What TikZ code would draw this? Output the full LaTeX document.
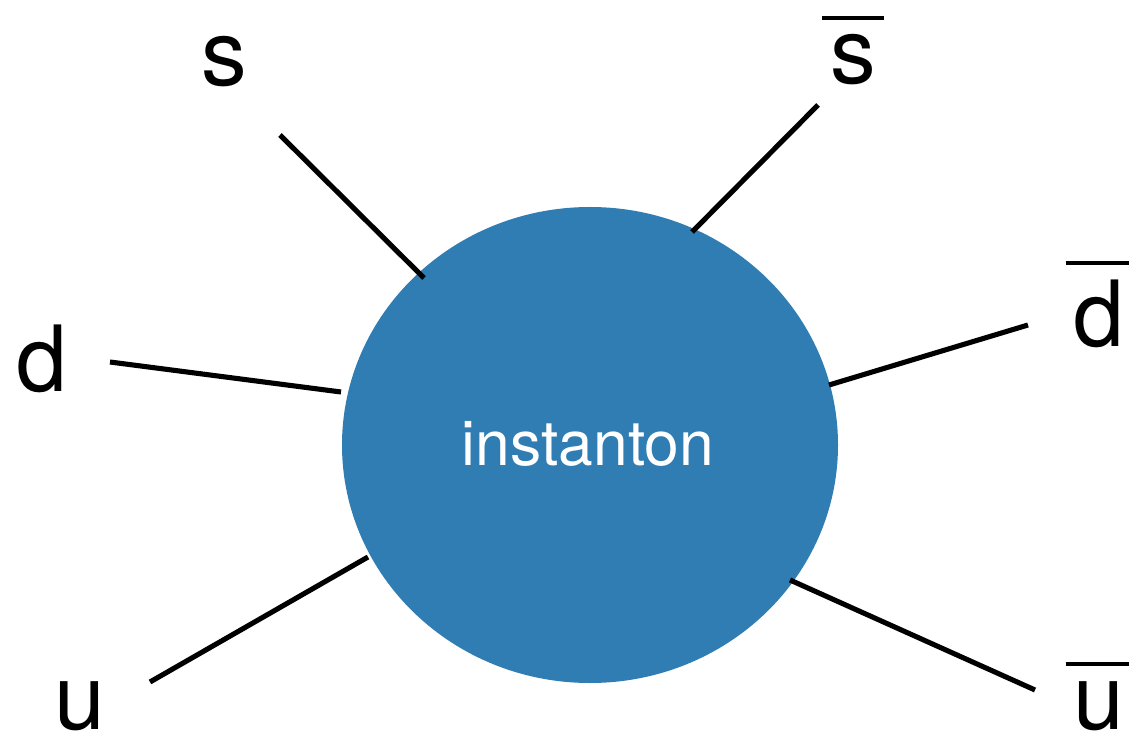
\documentclass[tikz,border=0pt]{standalone}
\usepackage{fontspec}
\setmainfont{TeX Gyre Heros}
\usepackage{xcolor}
\usetikzlibrary{shapes.geometric}
\definecolor{instblue}{RGB}{47,125,178}
\newcommand{\abar}[1]{\vbox{\hrule height 2.4pt \kern 8.5pt \hbox{\kern4.5pt#1\kern4.5pt}}}
\tikzset{
  quark/.style={anchor=base, inner sep=0pt, font=\fontsize{52}{60}\selectfont},
  leg/.style={line width=2.9pt},
  blob/.style={ellipse, fill=instblue, minimum width=496*0.02cm, minimum height=476*0.02cm, inner sep=0pt},
  every picture/.style={line cap=butt, line join=round}
}
\begin{document}
\begin{tikzpicture}[x=0.02cm, y=-0.02cm]
  \useasboundingbox (0,0) rectangle (1129,736);
  \node[blob] (inst) at (590,445) {};
  \node[anchor=base, inner sep=0pt, text=white, font=\fontsize{35.5}{42}\selectfont] (lbl) at (588,465) {instanton};
  \node[quark] (s) at (224,86) {s};
  \node[quark] (sb) at (853,84) {\abar{s}};
  \node[quark] (d) at (42,392) {d};
  \node[quark] (db) at (1099,347) {\abar{d}};
  \node[quark] (u) at (80,729) {u};
  \node[quark] (ub) at (1099,729) {\abar{u}};
  \coordinate (s1) at (280,135);  \coordinate (s2) at (424,278);
  \coordinate (sb1) at (818,105); \coordinate (sb2) at (692,232);
  \coordinate (d1) at (110,362);  \coordinate (d2) at (341,392);
  \coordinate (db1) at (1028,325); \coordinate (db2) at (829,385);
  \coordinate (u1) at (150,682);  \coordinate (u2) at (368,557);
  \coordinate (ub1) at (1035,690); \coordinate (ub2) at (790,580);
  \draw[leg] (s1)--(s2) (sb1)--(sb2) (d1)--(d2);
  \draw[leg] (db1)--(db2) (u1)--(u2) (ub1)--(ub2);
\end{tikzpicture}
\end{document}
